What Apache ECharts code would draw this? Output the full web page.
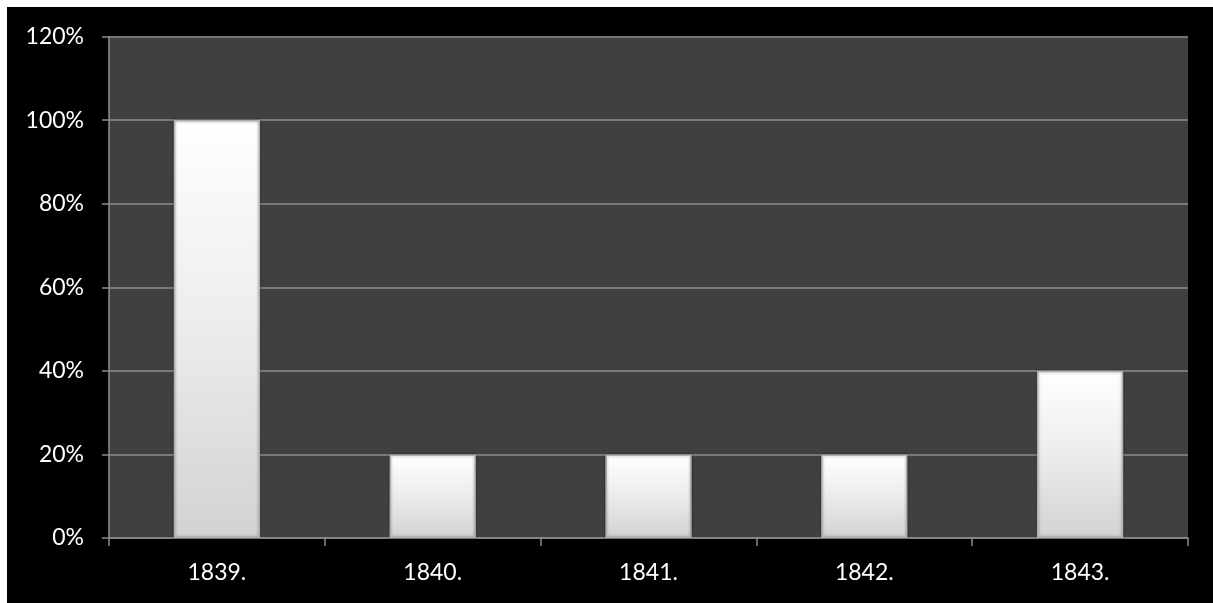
<!DOCTYPE html>
<html>
<head>
<meta charset="utf-8">
<script src="https://cdn.jsdelivr.net/npm/echarts@6/dist/echarts.min.js"></script>
<style>
html,body{margin:0;padding:0;background:#ffffff;width:1213px;height:603px;overflow:hidden;}
#c{position:absolute;left:7px;top:7px;width:1206px;height:596px;background:#000;}
</style>
</head>
<body>
<div id="c"></div>
<script>
const categories = ['1839.', '1840.', '1841.', '1842.', '1843.'];
const values = [100, 20, 20, 20, 40];
const yTicks = {min: 0, max: 120, interval: 20};

const chart = echarts.init(document.getElementById('c'));
const axisGray = '#8c8c8c';
chart.setOption({
  backgroundColor: '#000000',
  animation: false,
  grid: {left: 102, right: 25, top: 29.5, bottom: 65, show: true, backgroundColor: '#404040', borderWidth: 0},
  xAxis: {
    type: 'category',
    data: categories,
    axisLine: {show: true, lineStyle: {color: axisGray, width: 1.5}},
    axisTick: {show: true, length: 8, lineStyle: {color: axisGray, width: 1.5}},
    axisLabel: {color: '#ffffff', fontFamily: 'Lato', fontSize: 23, margin: 23}
  },
  yAxis: {
    type: 'value',
    min: yTicks.min, max: yTicks.max, interval: yTicks.interval,
    axisLine: {show: true, lineStyle: {color: axisGray, width: 1.5}},
    axisTick: {show: true, length: 7, lineStyle: {color: axisGray, width: 1.5}},
    splitLine: {show: true, lineStyle: {color: axisGray, width: 1.5}},
    axisLabel: {color: '#ffffff', fontFamily: 'Lato', fontSize: 23, margin: 25, formatter: '{value}%'}
  },
  series: [{
    type: 'bar',
    data: values,
    barWidth: '40%',
    itemStyle: {
      color: new echarts.graphic.LinearGradient(0, 0, 0, 1, [
        {offset: 0, color: '#ffffff'},
        {offset: 0.5, color: '#ececec'},
        {offset: 1, color: '#d2d2d2'}
      ]),
      borderColor: '#b0b0b0',
      borderWidth: 1.5,
      shadowColor: 'rgba(0,0,0,0.35)',
      shadowBlur: 3
    }
  }]
});
</script>
</body>
</html>
